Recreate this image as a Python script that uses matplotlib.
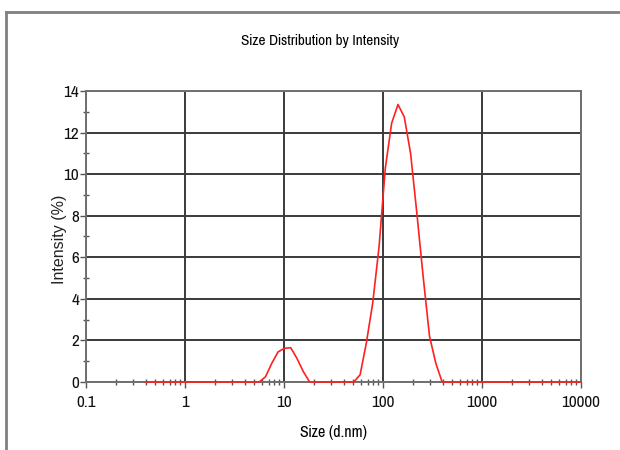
import matplotlib
matplotlib.use("Agg")
import matplotlib.pyplot as plt
from matplotlib.lines import Line2D
from matplotlib.ticker import FixedLocator, NullFormatter

plt.rcParams['font.family'] = ['Liberation Sans Narrow', 'Pragati Narrow', 'Archivo Narrow',
                               'Liberation Sans', 'DejaVu Sans']

# size bins (d.nm) and intensity (%)
size_nm = [0.4, 0.4632, 0.5365, 0.6213, 0.7195, 0.8332, 0.9649, 1.117, 1.294, 1.499,
           1.736, 2.01, 2.328, 2.696, 3.122, 3.615, 4.187, 4.849, 5.615, 6.503,
           7.531, 8.721, 10.1, 11.7, 13.54, 15.69, 18.17, 21.04, 24.36, 28.21,
           32.67, 37.84, 43.82, 50.75, 58.77, 68.06, 78.82, 91.28, 105.7, 122.4,
           141.8, 164.2, 190.1, 220.2, 255.0, 295.3, 342.0, 396.1, 458.7, 531.2,
           615.1, 712.4, 825.0, 955.4, 1106, 1281, 1484, 1718, 1990, 2305,
           2669, 3091, 3580, 4145, 4801, 5560, 6439, 7456, 8635, 10000]
intensity = [0, 0, 0, 0, 0, 0, 0, 0, 0, 0,
             0, 0, 0, 0, 0, 0, 0, 0, 0, 0.25,
             0.9, 1.45, 1.62, 1.65, 1.13, 0.5, 0, 0, 0, 0,
             0, 0, 0, 0, 0.35, 1.9, 3.8, 6.5, 10.3, 12.45,
             13.35, 12.75, 11.0, 8.1, 5.05, 2.2, 0.9, 0, 0, 0,
             0, 0, 0, 0, 0, 0, 0, 0, 0, 0,
             0, 0, 0, 0, 0, 0, 0, 0, 0, 0]

x_ticks = [0.1, 1, 10, 100, 1000, 10000]
x_ticklabels = ['0.1', '1', '10', '100', '1000', '10000']
y_ticks = [0, 2, 4, 6, 8, 10, 12, 14]

fig = plt.figure(figsize=(6.2, 4.5), dpi=100)
ax = fig.add_axes([0.1387, 0.1511, 0.7983, 0.6467])

ax.plot(size_nm, intensity, color='#ff2020', linewidth=1.2, zorder=5, clip_on=False)

ax.set_xscale('log')
ax.set_xlim(0.1, 10000)
ax.set_ylim(0, 14)

ax.xaxis.set_major_locator(FixedLocator(x_ticks))
ax.set_xticklabels(x_ticklabels)
minors = [m * d for d in [0.1, 1, 10, 100, 1000] for m in range(2, 10)]
ax.xaxis.set_minor_locator(FixedLocator(minors))
ax.xaxis.set_minor_formatter(NullFormatter())
ax.set_yticks(y_ticks)
ax.yaxis.set_minor_locator(FixedLocator([1, 3, 5, 7, 9, 11, 13]))

ax.grid(True, which='major', color='#3a3a3a', linewidth=1.4)
for s in ax.spines.values():
    s.set_color('#707070')
    s.set_linewidth(1.4)

ax.tick_params(axis='both', which='major', direction='out', length=4, width=1.0,
               color='#555555', labelsize=13.5, labelcolor='#111111')
ax.tick_params(axis='x', which='minor', direction='inout', length=5, width=1.0, color='#555555')
ax.tick_params(axis='y', which='minor', direction='inout', length=5, width=1.0, color='#555555')
ax.tick_params(axis='x', which='major', pad=5)
ax.tick_params(axis='y', which='major', pad=1)

ax.set_xlabel('Size (d.nm)', fontsize=12.5, labelpad=11)
ax.set_ylabel('Intensity (%)', fontsize=11.5, family=['Liberation Sans', 'DejaVu Sans'],
              color='#222222')
ax.yaxis.set_label_coords(-0.038, 0.49)

fig.text(0.516, 0.91, 'Size Distribution by Intensity', ha='center', va='center', fontsize=12)

# outer frame (open at right and bottom)
frame = dict(color='#808080', linewidth=2.0)
fig.add_artist(Line2D([0.010, 1.0], [0.974, 0.974], transform=fig.transFigure, **frame))
fig.add_artist(Line2D([0.010, 0.010], [0.0, 0.974], transform=fig.transFigure, **frame))

fig.savefig('out.png', dpi=100)
